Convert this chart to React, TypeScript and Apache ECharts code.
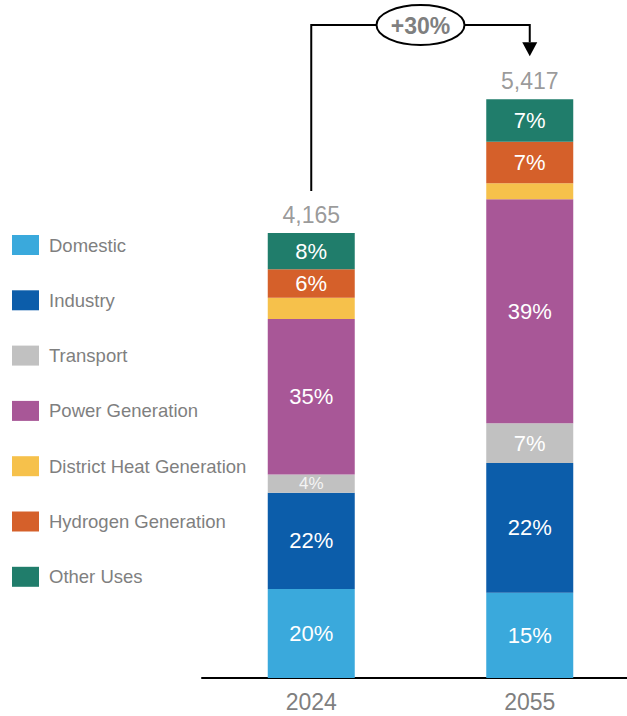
import React, { useEffect, useRef } from "react";
import * as echarts from "echarts";

const years = ["2024", "2055"];
const seriesNames = [
  "Domestic",
  "Industry",
  "Transport",
  "Power Generation",
  "District Heat Generation",
  "Hydrogen Generation",
  "Other Uses",
];
const domestic = [833, 798];
const industry = [901, 1214];
const transport = [172, 372];
const powerGeneration = [1454, 2097];
const districtHeat = [199, 150];
const hydrogen = [266, 389];
const otherUses = [340, 397];
const totals = [4165, 5417];

const seriesValues = [domestic, industry, transport, powerGeneration, districtHeat, hydrogen, otherUses];
const colors = ["#3aa9dc", "#0c5daa", "#c1c1c1", "#a85797", "#f6c14b", "#d5602a", "#207d6b"];
const showPct = [true, true, true, true, false, true, true];

const FONT = "'Liberation Sans', Arial, Helvetica, sans-serif";
const GRAY = "#7f7f7f";

export default function App() {
  const ref = useRef<HTMLDivElement>(null);

  useEffect(() => {
    if (!ref.current) return;
    const chart = echarts.init(ref.current, undefined, { renderer: "svg" });

    const barSeries = seriesNames.map((name, si) => ({
      name,
      type: "bar",
      stack: "total",
      barWidth: 87,
      itemStyle: { color: colors[si] },
      label: {
        show: showPct[si],
        position: "inside",
        color: "#ffffff",
        fontSize: 22,
        fontFamily: FONT,
        formatter: (p: any) => Math.round((p.value / totals[p.dataIndex]) * 100) + "%",
      },
      data: seriesValues[si].map((v) => {
        const px = v / 9.36;
        if (px < 25) {
          return { value: v, label: { fontSize: 17, color: "#f4f4f4" } };
        }
        return v;
      }),
    }));

    chart.setOption({
      animation: false,
      backgroundColor: "#ffffff",
      grid: {
        left: 202,
        width: 437,
        top: 37,
        bottom: 38,
        containLabel: false,
        outerBoundsMode: "none",
      },
      legend: {
        data: seriesNames,
        orient: "vertical",
        left: 7,
        top: 230,
        itemWidth: 27,
        itemHeight: 20,
        itemGap: 35.3,
        icon: "rect",
        selectedMode: false,
        textStyle: { fontSize: 18.5, color: GRAY, fontFamily: FONT, padding: [0, 0, 0, 5] },
      },
      xAxis: {
        type: "category",
        data: years,
        axisLine: { show: true, lineStyle: { color: "#000000", width: 2 } },
        axisTick: { show: false },
        axisLabel: { fontSize: 23, color: GRAY, fontFamily: FONT, margin: 12 },
      },
      yAxis: {
        type: "value",
        min: 0,
        max: 6000,
        show: false,
        splitLine: { show: false },
      },
      series: [
        ...barSeries,
        {
          name: "Total",
          type: "scatter",
          symbolSize: 0,
          data: totals,
          label: {
            show: true,
            position: "top",
            distance: 7,
            color: GRAY,
            fontSize: 23,
            fontFamily: FONT,
            formatter: (p: any) => p.value.toLocaleString("en-US"),
          },
          z: 10,
        },
      ],
    });

    const x0 = chart.convertToPixel({ xAxisIndex: 0 }, 0) as number;
    const x1 = chart.convertToPixel({ xAxisIndex: 0 }, 1) as number;
    const t0 = chart.convertToPixel({ yAxisIndex: 0 }, totals[0]) as number;
    const t1 = chart.convertToPixel({ yAxisIndex: 0 }, totals[1]) as number;
    const lineY = 25;
    const tipY = t1 - 43;
    const headTop = tipY - 14;
    const cx = (x0 + x1) / 2;
    const growth = Math.round((totals[1] / totals[0] - 1) * 100);

    chart.setOption({
      graphic: [
        {
          type: "polyline",
          shape: { points: [[x0, t0 - 42], [x0, lineY], [x1, lineY], [x1, headTop]] },
          style: { stroke: "#000", lineWidth: 2, fill: null },
          z: 100,
        },
        {
          type: "polygon",
          shape: { points: [[x1 - 7.5, headTop], [x1 + 7.5, headTop], [x1, tipY]] },
          style: { fill: "#000" },
          z: 100,
        },
        {
          type: "ellipse",
          shape: { cx, cy: lineY, rx: 44, ry: 20 },
          style: { fill: "#fff", stroke: "#000", lineWidth: 2 },
          z: 101,
        },
        {
          type: "text",
          x: cx,
          y: lineY + 1,
          style: {
            text: "+" + growth + "%",
            align: "center",
            verticalAlign: "middle",
            fill: GRAY,
            font: "bold 23px " + FONT,
          },
          z: 102,
        },
      ],
    });

    return () => chart.dispose();
  }, []);

  return (
    <div
      ref={ref}
      style={{ position: "absolute", left: 0, top: 0, width: 627, height: 716 }}
    />
  );
}
